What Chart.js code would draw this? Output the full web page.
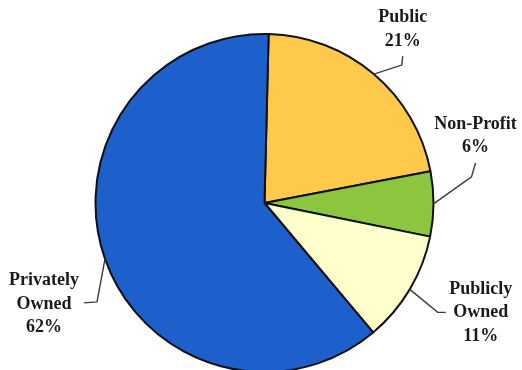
<!DOCTYPE html>
<html>
<head>
<meta charset="utf-8">
<script src="https://cdn.jsdelivr.net/npm/chart.js@4/dist/chart.umd.min.js"></script>
<style>
html,body{margin:0;padding:0;background:#fff;}
#wrap{width:522px;height:370px;position:relative;}
</style>
</head>
<body>
<div id="wrap"><canvas id="c" width="522" height="370"></canvas></div>
<script>
const categories = ["Public", "Non-Profit", "Publicly Owned", "Privately Owned"];
const values = [21.6, 6.2, 10.7, 61.5];
const labelLines = [["Public", "21%"], ["Non-Profit", "6%"], ["Publicly", "Owned", "11%"], ["Privately", "Owned", "62%"]];
const colors = ["#FFC94B", "#8CC63F", "#FFFFCC", "#1D5FCB"];

// leader layout relative to slice anchor (mid-angle on arc)
const leaders = [
  {elbow:[28,-9], end:[29,-18], text:[29,-44.5]},
  {elbow:[38,-27], end:[42,-41], text:[42,-68]},
  {elbow:[28,23], end:[36,23], text:[71,23]},
  {elbow:[-8,43], end:[-21,44], text:[-61,45]}
];

const labelPlugin = {
  id: 'leaderLabels',
  afterDatasetsDraw(chart) {
    const ctx = chart.ctx;
    const meta = chart.getDatasetMeta(0);
    ctx.save();
    meta.data.forEach((arc, i) => {
      const p = arc.getProps(['x','y','startAngle','endAngle','outerRadius'], true);
      const mid = (p.startAngle + p.endAngle) / 2;
      const ax = p.x + Math.cos(mid) * p.outerRadius;
      const ay = p.y + Math.sin(mid) * p.outerRadius;
      const L = leaders[i];
      ctx.strokeStyle = "#3a3a3a";
      ctx.lineWidth = 1.4;
      ctx.beginPath();
      ctx.moveTo(ax, ay);
      ctx.lineTo(ax + L.elbow[0], ay + L.elbow[1]);
      ctx.lineTo(ax + L.end[0], ay + L.end[1]);
      ctx.stroke();
      const lines = labelLines[i];
      const lh = 23.5;
      const cx = ax + L.text[0];
      const cy = ay + L.text[1];
      ctx.fillStyle = "#1a1a1a";
      ctx.font = "bold 18px 'Liberation Serif', 'Times New Roman', serif";
      ctx.textAlign = "center";
      ctx.textBaseline = "middle";
      lines.forEach((t, k) => {
        const y = cy + (k - (lines.length - 1) / 2) * lh;
        ctx.fillText(t, cx, y);
      });
    });
    ctx.restore();
  }
};

new Chart(document.getElementById('c'), {
  type: 'pie',
  data: {
    labels: categories,
    datasets: [{
      data: values,
      backgroundColor: colors,
      borderColor: "#111111",
      borderWidth: 2,
      borderAlign: 'center'
    }]
  },
  options: {
    responsive: false,
    animation: false,
    rotation: 1.4,
    radius: 169,
    layout: { padding: { left: 97, right: 90, top: 36, bottom: 0 } },
    plugins: { legend: { display: false }, tooltip: { enabled: false } }
  },
  plugins: [labelPlugin]
});
</script>
</body>
</html>
